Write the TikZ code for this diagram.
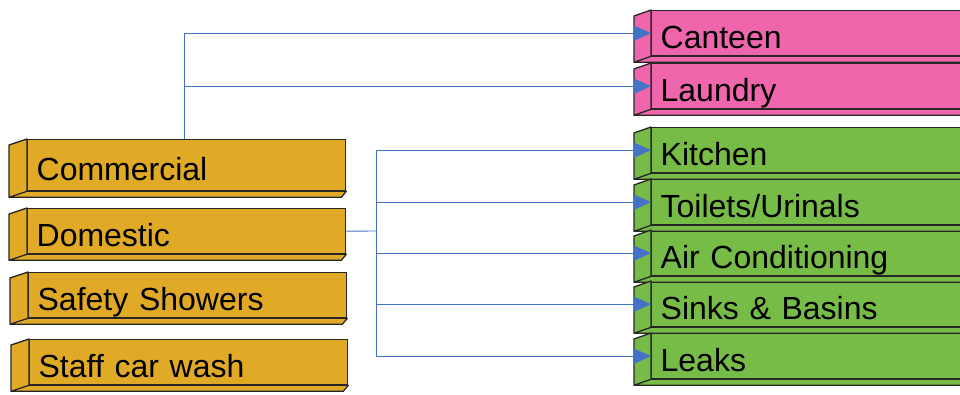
\documentclass[tikz,border=0pt]{standalone}
\usepackage{fontspec}
\setmainfont{Liberation Sans}
\usepackage{tikz}
\usetikzlibrary{arrows.meta, calc}
\definecolor{slabgold}{HTML}{E0AA26}
\definecolor{slabpink}{HTML}{F066AC}
\definecolor{slabgreen}{HTML}{78BC48}
\definecolor{linkblue}{HTML}{4472C4}
\newcommand{\slabfaces}[3]{%
\filldraw[fill=#3,draw=black!85,line width=1.3pt,line join=round]
  (#1.north west) -- ++(-#2,6) -- ($(#1.south west)+(-#2,6)$) -- (#1.south west) -- cycle
  (#1.south west) -- ($(#1.south west)+(-#2,6)$) -- ($(#1.south east)+(-5,6)$) -- (#1.south east) -- cycle;
}

\begin{document}
\begin{tikzpicture}[x=1pt,y=-1pt,
  slab/.style={draw=black!85,line width=1.3pt,anchor=north west,
    inner xsep=9pt,inner ysep=0pt,minimum height=45pt,text width=300pt,
    align=left,text height=31pt,text depth=0pt,
    font=\fontsize{32}{38}\selectfont},
  wide/.style={text width=320pt},
  link/.style={draw=linkblue,line width=0.9pt},
  feed/.style={link,-{Triangle[length=17pt,width=15pt]}}]

\useasboundingbox (0,0) rectangle (960,394);
\clip (0,0) rectangle (960,394);

% source boxes
\node[slab,fill=slabgold,minimum height=51pt] (com) at (27,139) {Commercial};
\node[slab,fill=slabgold] (dom) at (27,208) {Domestic};
\node[slab,fill=slabgold] (saf) at (28,272) {Safety Showers};
\node[slab,fill=slabgold] (car) at (29,339) {Staff car wash};

% end uses
\node[slab,wide,fill=slabpink] (can) at (651,10) {Canteen};
\node[slab,wide,fill=slabpink] (lau) at (651,63) {Laundry};

\node[slab,wide,fill=slabgreen] (kit) at (651,127) {Kitchen};
\node[slab,wide,fill=slabgreen] (toi) at (651,179) {Toilets/Urinals};
\node[slab,wide,fill=slabgreen] (air) at (651,230) {Air Conditioning};
\node[slab,wide,fill=slabgreen] (sin) at (651,281) {Sinks \& Basins};
\node[slab,wide,fill=slabgreen] (lea) at (651,333) {Leaks};

\slabfaces{com}{18}{slabgold}
\slabfaces{dom}{18}{slabgold}
\slabfaces{saf}{18}{slabgold}
\slabfaces{car}{18}{slabgold}

\slabfaces{can}{17}{slabpink}
\slabfaces{lau}{17}{slabpink}

\slabfaces{kit}{17}{slabgreen}
\slabfaces{toi}{17}{slabgreen}
\slabfaces{air}{17}{slabgreen}
\slabfaces{sin}{17}{slabgreen}
\slabfaces{lea}{17}{slabgreen}

% commercial feeds
\coordinate (comtap) at (184,139);
\draw[feed] (comtap) |- (can.west);
\draw[feed] (comtap) |- (lau.west);

% domestic feeds
\coordinate (dombus) at (376,231);
\draw[link] (dom.east) -- (dombus);
\draw[feed] (dombus) |- (kit.west);
\draw[feed] (dombus) |- (toi.west);
\draw[feed] (dombus) |- (air.west);
\draw[feed] (dombus) |- (sin.west);
\draw[feed] (dombus) |- (lea.west);

\end{tikzpicture}
\end{document}
